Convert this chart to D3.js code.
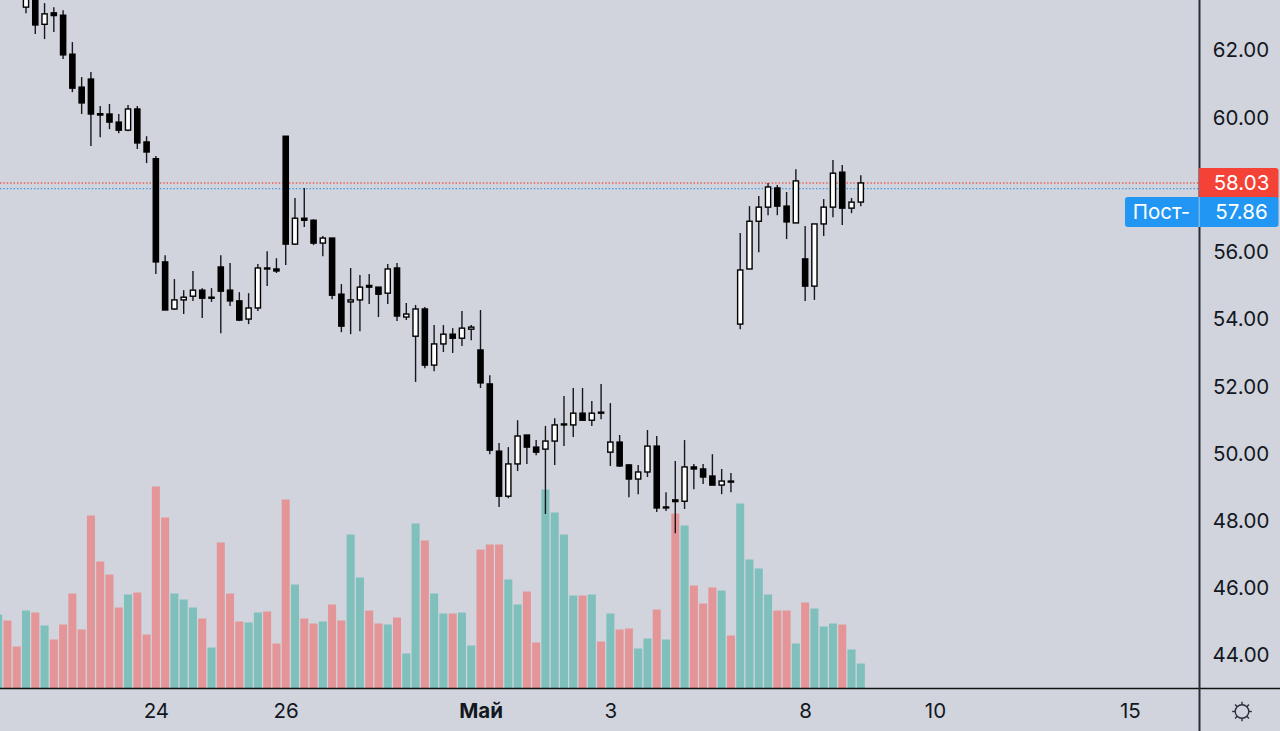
<!DOCTYPE html>
<html><head><meta charset="utf-8">
<script src="https://cdn.jsdelivr.net/npm/d3@7"></script>
<style>
html,body{margin:0;padding:0;background:#d1d4dc;overflow:hidden}
svg{display:block}
text{font-family:Inter,"Liberation Sans",sans-serif}
</style></head><body>
<svg id="c" width="1280" height="731"></svg>
<script>
const firstIndex = -3;
const highs = [65.1,65.2,64.9,
63.77,63.71,63.38,63.26,63.17,62.22,61.18,61.33,60.32,60.38,
60.08,60.35,60.32,59.42,58.83,55.88,55.17,54.84,55.41,54.90,
54.90,55.88,55.65,54.78,54.75,55.62,56.00,55.79,59.42,57.58,
57.88,56.95,56.45,56.39,55.02,55.50,55.29,55.32,54.93,55.62,
55.65,54.46,54.40,54.34,53.80,53.80,53.71,54.22,53.80,54.25,
52.31,50.29,50.17,50.97,50.53,50.38,50.80,51.03,51.69,51.93,
51.93,51.54,52.05,51.48,50.53,49.67,49.64,50.68,50.50,48.83,
49.76,50.38,49.67,49.67,49.96,49.52,49.40,56.54,57.34,57.64,
58.03,57.97,57.76,58.44,56.75,56.81,57.55,58.71,58.56,57.58,58.26];
const lows = [64.3,64.4,63.9,
63.08,62.46,62.31,62.52,61.72,60.73,60.08,59.13,59.39,59.63,
59.51,59.57,59.04,58.62,55.32,54.25,54.25,54.13,54.52,54.01,
54.49,53.56,54.37,53.92,53.83,54.22,54.96,55.35,55.59,56.18,
56.72,56.18,55.85,54.57,53.59,53.53,53.62,54.43,54.04,54.43,
53.92,53.95,52.11,52.52,52.43,53.00,52.97,53.18,53.35,51.93,
49.96,48.39,48.65,49.46,49.67,49.93,48.18,49.64,50.20,50.47,
50.97,50.80,51.00,49.61,49.58,48.68,48.77,49.28,48.24,48.27,
47.61,48.33,48.92,49.07,49.04,48.77,48.83,53.68,55.47,55.97,
57.07,57.07,56.36,56.84,54.52,54.55,56.45,57.01,56.78,57.13,57.34];
const opens = [64.5,64.9,64.6,
63.26,63.56,62.75,63.09,63.02,61.86,60.88,61.12,60.09,60.08,
59.84,59.60,60.23,59.25,58.75,55.68,54.28,54.55,54.66,54.84,
54.60,55.53,54.84,54.52,53.98,54.31,55.50,55.47,59.42,56.21,
56.98,56.92,56.24,56.39,54.72,54.49,54.55,54.98,54.93,54.75,
55.50,54.04,53.47,54.28,52.61,53.24,53.53,53.41,53.68,53.06,
52.05,50.05,48.71,49.67,50.53,50.17,50.11,50.35,50.83,50.83,
51.18,50.97,51.21,50.02,50.32,49.64,49.22,49.43,50.20,48.36,
48.60,48.56,49.58,49.52,49.31,49.04,49.16,53.83,55.47,56.89,
57.31,57.88,57.34,56.84,55.77,54.96,56.81,57.31,58.35,57.28,57.46];
const closes = [64.9,64.6,64.1,
63.62,62.73,63.06,63.01,61.84,60.85,60.41,60.08,60.05,59.84,
59.60,60.23,59.22,58.95,55.68,54.25,54.55,54.63,54.84,54.60,
54.63,54.81,54.52,53.95,54.31,55.50,55.47,55.41,56.21,56.98,
56.92,56.24,56.39,54.69,53.77,54.55,54.93,54.93,54.72,55.47,
54.07,54.13,54.28,52.61,53.24,53.53,53.41,53.71,53.74,52.08,
50.08,48.71,49.67,50.50,50.17,50.02,50.35,50.83,50.86,51.18,
50.97,51.18,51.18,50.32,49.61,49.22,49.43,50.20,48.36,48.39,
48.55,49.58,49.52,49.28,49.04,49.16,49.13,55.44,56.89,57.31,
57.91,57.34,56.87,58.09,54.96,56.81,57.31,58.32,57.28,57.46,58.03];
const volumes = [74,68,42,
78,76,63,49,64,95,59,173,127,114,
81,94,96,54,202,171,95,89,81,70,
41,146,95,67,66,76,77,45,189,104,
70,65,67,84,68,154,111,78,65,64,
71,35,165,148,95,75,75,76,43,139,
144,144,109,84,97,46,199,176,154,93,
93,94,47,75,59,60,40,50,79,49,
175,163,103,85,101,98,53,185,129,120,
94,78,78,45,86,80,62,65,64,39,25];

const priceTicks = [44,46,48,50,52,54,56,58,60,62,64].filter(v=>v<63);
const timeTickIndex = [14,28,49,63,84,98,119];
const timeTickLabels = ["24","26","Май","3","8","10","15"];
const boldTimeLabels = ["Май"];
const lastClose = 58.03, prevClose = 57.86;
const prevLabel = "Пост-";

const W=1280,H=731,plotR=1200,baseY=688.5;
const bg="#d1d4dc",ink="#131722",up="#7fbfbc",down="#e49597",red="#f44336",blue="#2196f3";

const svg=d3.select("#c");
const x=d3.scaleLinear().domain([0,90]).range([26,860.8]);
const y=d3.scaleLinear().domain([44,62]).range([654.5,49.5]);
const v=d3.scaleLinear().domain([0,200]).range([baseY,baseY-200]);

const rows=opens.map((o,i)=>({i:i+firstIndex,o,c:closes[i],h:highs[i],l:lows[i],vol:volumes[i]}));

// volume
svg.append("g").selectAll("rect").data(rows).join("rect")
 .attr("x",d=>x(d.i)-4).attr("width",8)
 .attr("y",d=>v(d.vol)).attr("height",d=>baseY-v(d.vol))
 .attr("fill",d=>d.c>=d.o?up:down);

// price lines
[[lastClose,"#ee5a4e"],[prevClose,"#3a97e6"]].forEach(([p,col])=>{
 svg.append("line").attr("x1",0).attr("x2",plotR-1).attr("y1",y(p)).attr("y2",y(p))
  .attr("stroke",col).attr("stroke-width",1.4).attr("stroke-dasharray","1.4 2");
});

// candles
const cg=svg.append("g").selectAll("g").data(rows).join("g");
cg.append("line").attr("x1",d=>x(d.i)).attr("x2",d=>x(d.i))
 .attr("y1",d=>y(d.h)).attr("y2",d=>y(d.l)).attr("stroke","#16181d").attr("stroke-width",1.4);
cg.append("rect").attr("x",d=>x(d.i)-2.6).attr("width",5.2)
 .attr("y",d=>y(Math.max(d.o,d.c))).attr("height",d=>Math.abs(y(d.o)-y(d.c)))
 .attr("fill",d=>d.c>=d.o?"#fff":"#000").attr("stroke","#000").attr("stroke-width",1.4);

// axes
const xAxis=d3.axisBottom(x).tickValues(timeTickIndex).tickSize(0)
 .tickFormat((d,i)=>timeTickLabels[i]);
const gx=svg.append("g").attr("transform",`translate(0,${baseY})`).call(xAxis);
gx.select(".domain").remove();
gx.selectAll("text").attr("y",0).attr("dy","0.35em").attr("transform","translate(0,22.5)")
 .attr("fill",ink).style("font-size","20.5px")
 .style("font-weight",function(){return boldTimeLabels.includes(this.textContent)?700:400;});

const yAxis=d3.axisRight(y).tickValues(priceTicks).tickSize(0).tickFormat(d3.format(".2f"));
const gy=svg.append("g").attr("transform",`translate(${plotR},0)`).call(yAxis);
gy.select(".domain").remove();
gy.selectAll("text").attr("x",41).attr("dy","0.36em").attr("text-anchor","middle")
 .attr("fill",ink).style("font-size","20.5px");

svg.append("line").attr("x1",0).attr("x2",W).attr("y1",baseY).attr("y2",baseY).attr("stroke","#111").attr("stroke-width",1.5);
svg.append("line").attr("x1",plotR-.5).attr("x2",plotR-.5).attr("y1",0).attr("y2",H).attr("stroke","#2a2e39").attr("stroke-width",2);

// price labels
const roundRight=(xa,ya,w,h,r)=>`M${xa},${ya}H${xa+w-r}Q${xa+w},${ya} ${xa+w},${ya+r}V${ya+h-r}Q${xa+w},${ya+h} ${xa+w-r},${ya+h}H${xa}Z`;
svg.append("path").attr("d",roundRight(1199,168,79.5,32,3)).attr("fill",red);
svg.append("rect").attr("x",1125).attr("y",197).attr("width",153.5).attr("height",30).attr("rx",3).attr("fill",blue);
svg.append("line").attr("x1",1199.2).attr("x2",1199.2).attr("y1",197).attr("y2",227).attr("stroke","#9cc9ef").attr("stroke-width",1);
const lab=(t,xx,yy)=>svg.append("text").attr("x",xx).attr("y",yy).attr("dy","0.36em").attr("text-anchor","middle").attr("fill","#fff").style("font-size","20.5px").text(t);
lab(d3.format(".2f")(lastClose),1241.5,183);
lab(d3.format(".2f")(prevClose),1241.5,212);
lab(prevLabel,1161.5,212);

// settings icon
const sun=svg.append("g").attr("transform","translate(1242,711.5)").attr("stroke","#2a2e39").attr("fill","none").attr("stroke-width",1.4);
sun.append("circle").attr("r",6.8);
d3.range(8).forEach(k=>{const a=k*Math.PI/4;
 sun.append("line").attr("x1",6.8*Math.cos(a)).attr("y1",6.8*Math.sin(a)).attr("x2",9.8*Math.cos(a)).attr("y2",9.8*Math.sin(a));});
</script></body></html>
